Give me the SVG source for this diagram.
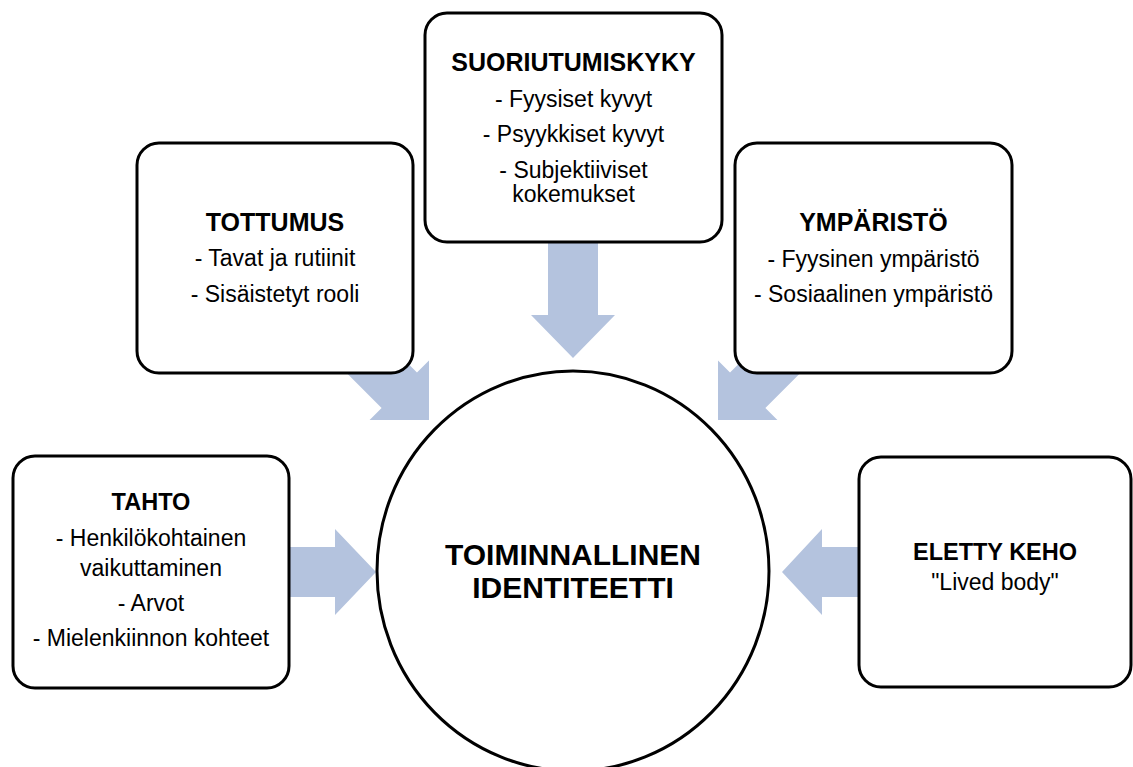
<svg xmlns="http://www.w3.org/2000/svg" width="1133" height="767" viewBox="0 0 1133 767">
  <style>
    .box { fill: #ffffff; stroke: #000000; stroke-width: 3; }
    .arrow { fill: #B4C3DE; stroke: none; }
    text { font-family: "Liberation Sans", Arial, sans-serif; fill: #000000; text-anchor: middle; }
    .h { font-weight: bold; font-size: 25px; }
    .h23 { font-weight: bold; font-size: 23.5px; }
    .b { font-size: 23px; }
    .t { font-weight: bold; font-size: 30px; }
  </style>
  <defs>
    <polygon id="arr" points="-130,-25 -42,-25 -42,-42 0,0 -42,42 -42,25 -130,25"/>
  </defs>

  <g id="connectors">
    <polygon class="arrow" points="270,547 335,547 335,529 376,572 335,615 335,597 270,597"/>
    <polygon class="arrow" points="880,547 822,547 822,529 782,572 822,615 822,597 880,597"/>
    <polygon class="arrow" points="548,220 598,220 598,315 615,315 573,358 531,315 548,315"/>
    <use href="#arr" class="arrow" transform="translate(429,420) rotate(45)"/>
    <use href="#arr" class="arrow" transform="translate(718,420) rotate(135)"/>
  </g>

  <g id="node-tahto">
    <rect class="box" x="13" y="456" width="276" height="232" rx="22" ry="22"/>
    <text class="h23" x="151" y="510">TAHTO</text>
    <text class="b" x="151" y="546">- Henkilökohtainen</text>
    <text class="b" x="151" y="576">vaikuttaminen</text>
    <text class="b" x="151" y="611">- Arvot</text>
    <text class="b" x="151" y="646">- Mielenkiinnon kohteet</text>
  </g>

  <g id="node-tottumus">
    <rect class="box" x="137" y="143" width="276" height="230" rx="22" ry="22"/>
    <text class="h" x="275" y="231">TOTTUMUS</text>
    <text class="b" x="275" y="266">- Tavat ja rutiinit</text>
    <text class="b" x="275" y="302">- Sisäistetyt rooli</text>
  </g>

  <g id="node-suoriutumiskyky">
    <rect class="box" x="425" y="13" width="297" height="229" rx="22" ry="22"/>
    <text class="h" x="573.5" y="71">SUORIUTUMISKYKY</text>
    <text class="b" x="573.5" y="107">- Fyysiset kyvyt</text>
    <text class="b" x="573.5" y="142">- Psyykkiset kyvyt</text>
    <text class="b" x="573.5" y="178">- Subjektiiviset</text>
    <text class="b" x="573.5" y="202">kokemukset</text>
  </g>

  <g id="node-ymparisto">
    <rect class="box" x="735" y="143" width="277" height="230" rx="22" ry="22"/>
    <text class="h" x="873.5" y="231">YMPÄRISTÖ</text>
    <text class="b" x="873.5" y="267">- Fyysinen ympäristö</text>
    <text class="b" x="873.5" y="302">- Sosiaalinen ympäristö</text>
  </g>

  <g id="node-eletty-keho">
    <rect class="box" x="859" y="457" width="272" height="230" rx="22" ry="22"/>
    <text class="h23" x="995" y="560">ELETTY KEHO</text>
    <text class="b" x="995" y="590">"Lived body"</text>
  </g>

  <g id="node-toiminnallinen-identiteetti">
    <ellipse class="box" cx="573" cy="571" rx="196" ry="200"/>
    <text class="t" x="573" y="565">TOIMINNALLINEN</text>
    <text class="t" x="573" y="598">IDENTITEETTI</text>
  </g>
</svg>
